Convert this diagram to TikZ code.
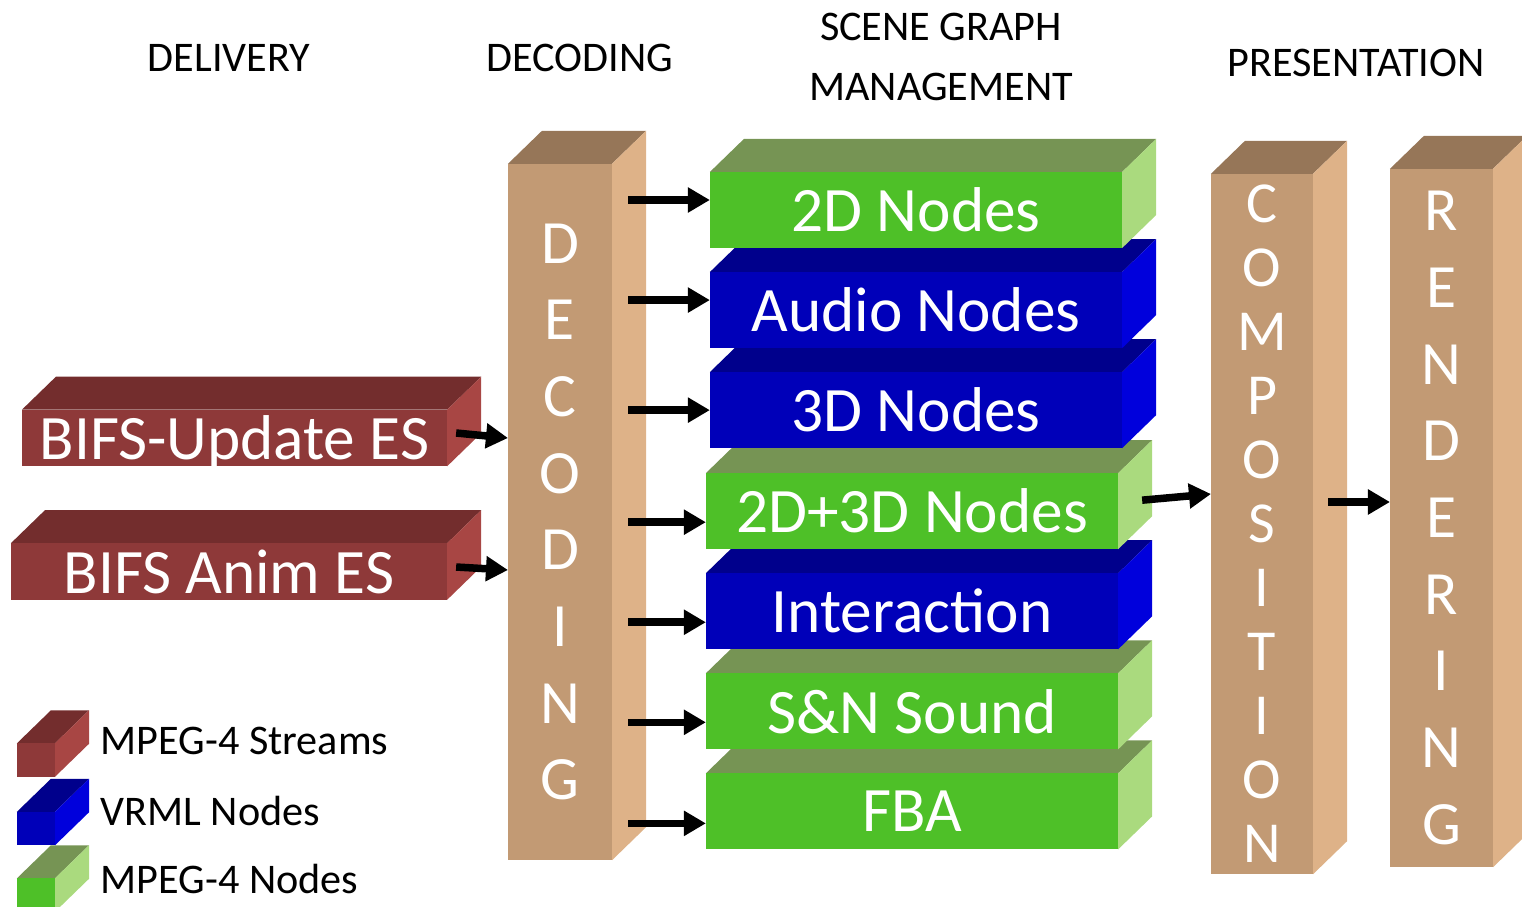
\documentclass[tikz,border=0pt]{standalone}
\usepackage{fontspec}
\setmainfont{Carlito}
\usetikzlibrary{arrows.meta, positioning, backgrounds, calc}

\definecolor{streamF}{RGB}{142,57,57}
\definecolor{streamT}{RGB}{115,45,45}
\definecolor{streamS}{RGB}{168,70,68}
\definecolor{vrmlF}{RGB}{0,0,185}
\definecolor{vrmlT}{RGB}{0,0,140}
\definecolor{vrmlS}{RGB}{0,0,220}
\definecolor{mpegF}{RGB}{78,192,40}
\definecolor{mpegT}{RGB}{118,148,84}
\definecolor{mpegS}{RGB}{170,218,126}
\definecolor{tanF}{RGB}{194,154,116}
\definecolor{tanT}{RGB}{150,118,88}
\definecolor{tanS}{RGB}{222,178,136}

\begin{document}
\begin{tikzpicture}[
        x=0.01cm, y=-0.01cm,
        face/.style={
            inner sep=0pt,
            outer sep=0pt,
            text=white,
            align=center
        },
        layer/.style={
            face,
            minimum width=4.12cm,
            minimum height=0.76cm,
            font=\fontsize{18}{20}\selectfont
        },
        stream/.style={
            face,
            fill=streamF,
            minimum height=0.565cm,
            text depth=0pt,
            font=\fontsize{18}{20}\selectfont
        },
        pillar/.style={
            face,
            fill=tanF,
            minimum width=1.03cm,
            minimum height=6.98cm,
            font=\fontsize{17.5}{21.8}\selectfont
        },
        swatch/.style={
            face,
            minimum width=0.38cm,
            minimum height=0.335cm
        },
        heading/.style={
            font=\fontsize{12}{17.3}\selectfont,
            align=center
        },
        legendtext/.style={
            font=\fontsize{12}{14}\selectfont,
            inner sep=0pt
        },
        flow/.style={
            -{Triangle[length=0.22cm, width=0.24cm]},
            line width=0.075cm
        },
        node distance=0.24cm
    ]

        \useasboundingbox (0,0) rectangle (1522,906);

        % ---------------------------------------------------------------------
        % Stage headings
        % ---------------------------------------------------------------------

        \node[heading] (hDelivery) at (229,58) {DELIVERY};
        \node[heading] (hDecoding) at (580,58) {DECODING};
        \node[heading] (hScene) at (941,57) {SCENE GRAPH\\MANAGEMENT};
        \node[heading] (hPresent) at (1356,63) {PRESENTATION};

        % ---------------------------------------------------------------------
        % Elementary streams and pillars
        % ---------------------------------------------------------------------

        \node[stream, minimum width=4.25cm] (bifsU) at (234.5,438) {BIFS-Update ES};
        \node[stream, minimum width=4.36cm] (bifsA) at (229,571.5) {BIFS Anim ES};

        \node[pillar, minimum width=1.04cm, minimum height=6.96cm] (dec) at (560,512)
            {D\\E\\C\\O\\D\\I\\N\\G};
        \node[pillar, minimum width=1.02cm, minimum height=7.00cm,
              font=\fontsize{16.5}{18.2}\selectfont] (comp) at (1262,524)
            {C\\O\\M\\P\\O\\S\\I\\T\\I\\O\\N};
        \node[pillar] (rend) at (1441.5,518)
            {R\\E\\N\\D\\E\\R\\I\\N\\G};

        % ---------------------------------------------------------------------
        % Scene graph node stack
        % ---------------------------------------------------------------------

        \node[layer, fill=mpegF] (n2d) at (916,210) {2D Nodes};
        \node[layer, fill=vrmlF, below=of n2d] (naud) {Audio Nodes};
        \node[layer, fill=vrmlF, below=of naud] (n3d) {3D Nodes};
        \node[layer, fill=mpegF, below=0.25cm of n3d, xshift=-0.04cm] (n23d) {2D+3D Nodes};
        \node[layer, fill=vrmlF, below=of n23d] (nint) {Interaction};
        \node[layer, fill=mpegF, below=of nint] (nsn) {S\&N Sound};
        \node[layer, fill=mpegF, below=of nsn] (nfba) {FBA};

        % ---------------------------------------------------------------------
        % Legend
        % ---------------------------------------------------------------------

        \node[swatch, fill=streamF] (lgStream) at (36,760) {};
        \node[swatch, fill=vrmlF] (lgVrml) at (36,828.5) {};
        \node[swatch, fill=mpegF] (lgMpeg) at (36,895) {};

        \node[legendtext, right=0.45cm of lgStream, yshift=0.19cm] (lgStreamTxt) {MPEG-4 Streams};
        \node[legendtext, right=0.45cm of lgVrml, yshift=0.18cm] (lgVrmlTxt) {VRML Nodes};
        \node[legendtext, right=0.45cm of lgMpeg, yshift=0.16cm] (lgMpegTxt) {MPEG-4 Nodes};

        % ---------------------------------------------------------------------
        % Top and side faces of every block
        % ---------------------------------------------------------------------

        \begin{scope}[on background layer]
            \foreach \nm/\kind in {nfba/mpeg, nsn/mpeg, nint/vrml, n23d/mpeg,
                                   n3d/vrml, naud/vrml, n2d/mpeg,
                                   bifsU/stream, bifsA/stream,
                                   dec/tan, comp/tan, rend/tan,
                                   lgMpeg/mpeg, lgVrml/vrml, lgStream/stream}{
                \fill[\kind T] (\nm.north west) -- ++(34,-33)
                    -- ($(\nm.north east)+(34,-33)$) -- (\nm.north east) -- cycle;
                \fill[\kind S] (\nm.north east) -- ++(34,-33)
                    -- ($(\nm.south east)+(34,-33)$) -- (\nm.south east) -- cycle;
            }
        \end{scope}

        % ---------------------------------------------------------------------
        % Data flow
        % ---------------------------------------------------------------------

        \draw[flow] ([xshift=0.09cm, yshift=0.05cm]bifsU.east) -- (bifsU.east -| dec.west);
        \draw[flow] ([xshift=0.09cm, yshift=0.045cm]bifsA.east) -- ([yshift=0.015cm]bifsA.east -| dec.west);

        \coordinate (decOut) at ([xshift=0.16cm]dec.east);
        \foreach \nm/\sh in {n2d/0.1, naud/0.1, n3d/0, n23d/-0.11,
                             nint/-0.11, nsn/-0.11, nfba/-0.12}{
            \draw[flow] ([yshift=\sh cm]decOut |- \nm.west) -- ([yshift=\sh cm]\nm.west);
        }

        \draw[flow] ([xshift=0.24cm, yshift=0.11cm]n23d.east) -- ([yshift=0.3cm]comp.west);
        \draw[flow] ([xshift=0.15cm, yshift=0.22cm]comp.east) -- ([yshift=0.22cm]comp.east -| rend.west);

    \end{tikzpicture}
\end{document}
